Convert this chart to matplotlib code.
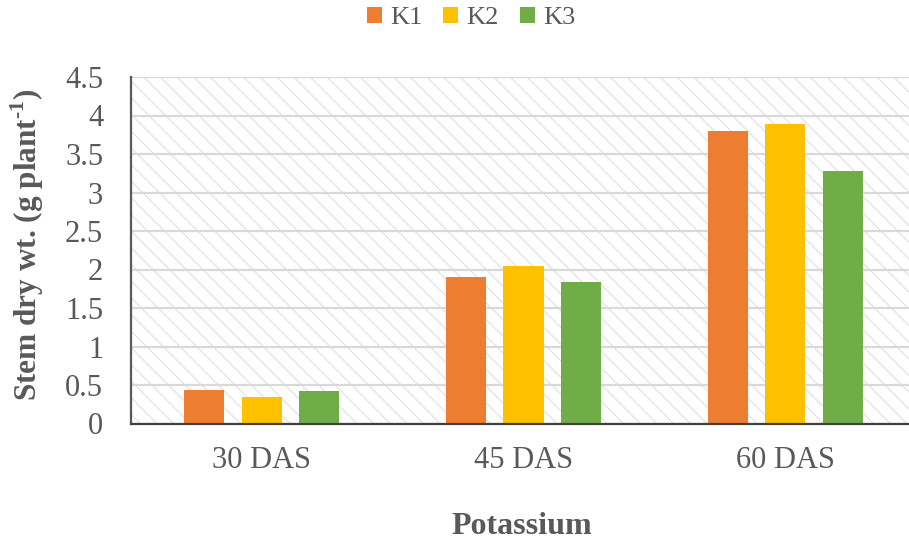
import matplotlib
matplotlib.use("Agg")
import matplotlib.pyplot as plt
from matplotlib.patches import Rectangle
import numpy as np

# Stem dry weight by sampling date and potassium level
categories = ["30 DAS", "45 DAS", "60 DAS"]
series_names = ["K1", "K2", "K3"]
k1 = [0.44, 1.90, 3.80]
k2 = [0.35, 2.05, 3.89]
k3 = [0.42, 1.84, 3.28]
yticks = [0, 0.5, 1, 1.5, 2, 2.5, 3, 3.5, 4, 4.5]
ytick_labels = ["0", "0.5", "1", "1.5", "2", "2.5", "3", "3.5", "4", "4.5"]

colors = ["#ED7D31", "#FFC000", "#70AD47"]
text_color = "#595959"

plt.rcParams["font.family"] = ["Liberation Serif", "DejaVu Serif"]
plt.rcParams["mathtext.fontset"] = "custom"
plt.rcParams["mathtext.rm"] = "Liberation Serif:bold"
plt.rcParams["mathtext.bf"] = "Liberation Serif:bold"
plt.rcParams["hatch.linewidth"] = 0.7

fig = plt.figure(figsize=(9.09, 5.44), dpi=100)
ax = fig.add_axes([131 / 909, 1 - 423.5 / 544, (916 - 131) / 909, (423.5 - 77) / 544])

# hatched plot-area background
bg = Rectangle((0, 0), 1, 1, transform=ax.transAxes, facecolor="white",
               edgecolor="#dcdcdc", hatch="\\\\", linewidth=0, zorder=0)
ax.add_patch(bg)
ax.set_facecolor("white")

x = np.arange(len(categories))
offset = 0.2196
width = 0.153
for i, (vals, name) in enumerate(zip([k1, k2, k3], series_names)):
    ax.bar(x + (i - 1) * offset, vals, width=width, color=colors[i],
           label=name, zorder=3)

ax.set_xlim(-0.5, 2.5)
ax.set_ylim(0, 4.5)
ax.set_yticks(yticks)
ax.set_yticklabels(ytick_labels)
ax.set_xticks(x)
ax.set_xticklabels(categories)

ax.yaxis.grid(True, color="#d9d9d9", linewidth=1.6, zorder=1)
ax.set_axisbelow(True)
ax.tick_params(axis="both", length=0, labelsize=22, colors=text_color)
ax.tick_params(axis="y", pad=20)
ax.tick_params(axis="x", pad=16)

for side in ["top", "right"]:
    ax.spines[side].set_visible(False)
ax.spines["left"].set_color("#595959")
ax.spines["left"].set_linewidth(1.6)
ax.spines["bottom"].set_color("#404040")
ax.spines["bottom"].set_linewidth(1.6)
ax.spines["left"].set_zorder(4)
ax.spines["bottom"].set_zorder(4)

fig.text(27 / 909, 1 - 245 / 544, r"Stem dry wt. (g plant$^{\text{-1}}$)",
         fontsize=22.5, fontweight="bold", color=text_color, rotation=90,
         ha="center", va="center")

fig.text(522 / 909, 1 - 527 / 544, "Potassium", fontsize=23, fontweight="bold",
         color=text_color, ha="center", va="center")

leg = fig.legend(loc="center", bbox_to_anchor=(471 / 909, 1 - 18 / 544), ncol=3,
                 frameon=False, fontsize=19, handlelength=0.57, handleheight=0.57,
                 handletextpad=0.3, columnspacing=0.8, borderaxespad=0)
for t in leg.get_texts():
    t.set_color(text_color)

fig.savefig("out.png", dpi=100)
